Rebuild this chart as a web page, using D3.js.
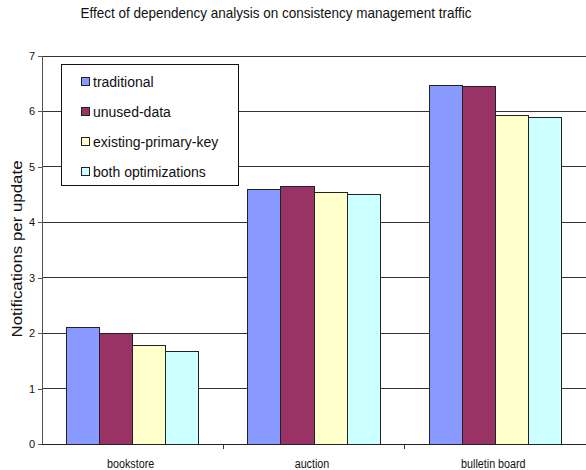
<!DOCTYPE html>
<html><head><meta charset="utf-8">
<script src="https://cdn.jsdelivr.net/npm/d3@7"></script>
<style>body{margin:0;background:#fff}svg{display:block}text{font-family:"Liberation Sans",Arial,sans-serif}</style>
</head><body><svg id="c" width="586" height="470"></svg>
<script>
const categories = ["bookstore", "auction", "bulletin board"];
const seriesNames = ["traditional", "unused-data", "existing-primary-key", "both optimizations"];
const traditional = [2.11, 4.60, 6.47];
const unusedData = [2.00, 4.64, 6.45];
const existingPrimaryKey = [1.77, 4.54, 5.93];
const bothOptimizations = [1.67, 4.50, 5.89];
const yTicks = [0, 1, 2, 3, 4, 5, 6, 7];
const colors = ["#8899FF", "#993366", "#FFFFCC", "#CCFFFF"];
const seriesValues = [traditional, unusedData, existingPrimaryKey, bothOptimizations];

const svg = d3.select("#c");
const m = {left: 42, right: 586, top: 56, bottom: 444};
const x0 = d3.scaleBand().domain(categories).range([m.left, m.right]).paddingInner(0.27).paddingOuter(0.135);
const x1 = d3.scaleBand().domain(seriesNames).range([0, x0.bandwidth()]);
const y = d3.scaleLinear().domain([0, 7]).range([m.bottom, m.top]);

function condense(sel, f) {
  sel.each(function() {
    const w = this.getComputedTextLength();
    d3.select(this).attr("textLength", w * f).attr("lengthAdjust", "spacingAndGlyphs");
  });
}

// title
svg.append("text").attr("x", 276).attr("y", 18).attr("text-anchor", "middle")
  .attr("font-size", 15).attr("fill", "#111")
  .text("Effect of dependency analysis on consistency management traffic")
  .call(condense, 0.9);

// gridlines
svg.append("g").selectAll("line").data(yTicks.filter(d => d > 0)).join("line")
  .attr("x1", m.left).attr("x2", m.right).attr("y1", d => y(d)).attr("y2", d => y(d))
  .attr("stroke", "#333").attr("stroke-width", 1).attr("shape-rendering", "crispEdges");

// y axis
const yAxis = svg.append("g").attr("transform", `translate(${m.left},0)`)
  .call(d3.axisLeft(y).tickValues(yTicks).tickSize(4).tickPadding(3).tickFormat(d3.format("d")));
yAxis.select(".domain").attr("stroke", "#555").attr("shape-rendering", "crispEdges");
yAxis.selectAll(".tick line").attr("stroke", "#555").attr("shape-rendering", "crispEdges");
yAxis.selectAll("text").attr("font-size", 11).attr("fill", "#111").attr("font-family", "Liberation Sans, Arial, sans-serif");

// bars
const groups = svg.append("g").selectAll("g").data(categories).join("g")
  .attr("transform", d => `translate(${x0(d)},0)`);
groups.selectAll("rect").data((d, i) => seriesNames.map((s, j) => ({s, v: seriesValues[j][i], j})))
  .join("rect")
  .attr("x", d => x1(d.s)).attr("width", x1.bandwidth())
  .attr("y", d => y(d.v)).attr("height", d => y(0) - y(d.v))
  .attr("fill", d => colors[d.j]).attr("stroke", "#222").attr("stroke-width", 1)
  .attr("shape-rendering", "crispEdges");

// x axis
const xAxisG = svg.append("g").attr("transform", `translate(0,${m.bottom})`);
xAxisG.append("line").attr("x1", m.left).attr("x2", m.right).attr("stroke", "#222").attr("shape-rendering", "crispEdges");
const bounds = categories.map((c, i) => m.left + i * (m.right - m.left) / categories.length);
xAxisG.selectAll(".tk").data(bounds.slice(1)).join("line").attr("class", "tk")
  .attr("x1", d => d).attr("x2", d => d).attr("y1", 0).attr("y2", 5).attr("stroke", "#333").attr("shape-rendering", "crispEdges");
xAxisG.selectAll(".lab").data(categories).join("text").attr("class", "lab")
  .attr("x", d => x0(d) + x0.bandwidth() / 2 - 2).attr("y", 24).attr("text-anchor", "middle")
  .attr("font-size", 12.5).attr("fill", "#111").text(d => d)
  .call(condense, 0.86);

// y label
svg.append("text").attr("transform", `translate(22,249) rotate(-90)`).attr("text-anchor", "middle")
  .attr("font-size", 15.5).attr("fill", "#111").text("Notifications per update")
  .attr("textLength", 177).attr("lengthAdjust", "spacingAndGlyphs");

// legend
const lg = svg.append("g");
lg.append("rect").attr("x", 61.5).attr("y", 64.5).attr("width", 177).attr("height", 121)
  .attr("fill", "#fff").attr("stroke", "#111");
const rows = lg.selectAll("g").data(seriesNames).join("g")
  .attr("transform", (d, i) => `translate(81,${82 + i * 30})`);
rows.append("rect").attr("x", 0.5).attr("y", -4.5).attr("width", 8).attr("height", 8)
  .attr("fill", (d, i) => colors[i]).attr("stroke", "#222");
rows.append("text").attr("x", 12).attr("y", 5).attr("font-size", 14).attr("fill", "#111").text(d => d);
</script></body></html>
